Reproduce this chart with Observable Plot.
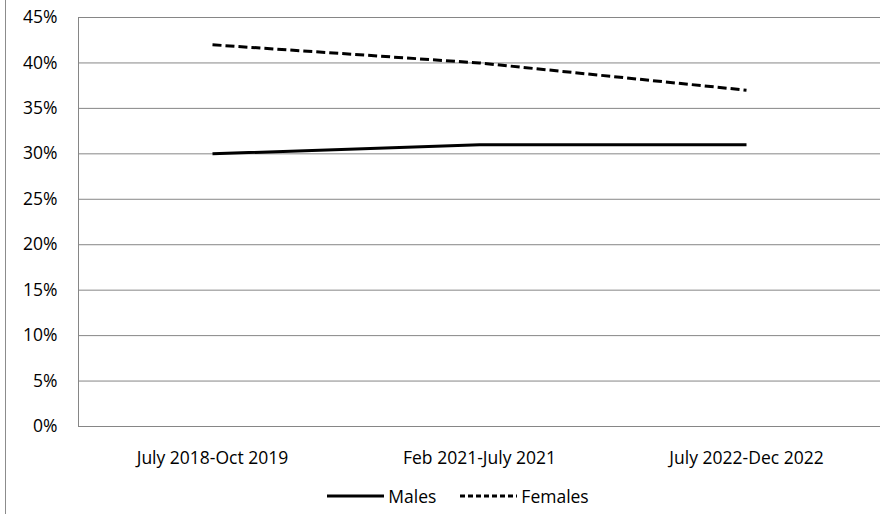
<!DOCTYPE html>
<html>
<head>
<meta charset="utf-8">
<script src="https://cdn.jsdelivr.net/npm/d3@7"></script>
<script src="https://cdn.jsdelivr.net/npm/@observablehq/plot@0.6"></script>
<style>
  html, body { margin: 0; padding: 0; background: #fff; }
  #wrap { position: relative; width: 884px; height: 514px; overflow: hidden; font-family: "Open Sans", sans-serif; }
  #frameLine { position: absolute; left: 5px; top: 0; width: 1px; height: 514px; background: #8c8c8c; }
  #legend { position: absolute; top: 484px; left: 0; width: 884px; display: flex; justify-content: center; gap: 24px; font-size: 17.5px; color: #000; padding-left: 32px; box-sizing: border-box; line-height: 24px; }
  .item { display: flex; align-items: center; gap: 4px; }
</style>
</head>
<body>
<div id="wrap">
  <div id="frameLine"></div>
  <div id="chart"></div>
  <div id="legend"></div>
</div>
<script>
const periods = ["July 2018-Oct 2019", "Feb 2021-July 2021", "July 2022-Dec 2022"];
const males = [30, 31, 31];
const females = [42, 40, 37];
const yTicks = [0, 5, 10, 15, 20, 25, 30, 35, 40, 45];
const seriesNames = ["Males", "Females"];

const data = [
  ...periods.map((p, i) => ({period: p, value: males[i], series: "Males"})),
  ...periods.map((p, i) => ({period: p, value: females[i], series: "Females"}))
];

const dashes = {Males: null, Females: "9,4"};

const chart = Plot.plot({
  width: 884,
  height: 480,
  marginTop: 17,
  marginBottom: 54,
  marginLeft: 78,
  marginRight: 4,
  style: {fontFamily: "'Open Sans', sans-serif", fontSize: "18px", color: "#000", background: "transparent"},
  x: {type: "point", domain: periods, padding: 0.5, label: null},
  y: {domain: [0, 45], label: null},
  marks: [
    Plot.ruleY(yTicks, {stroke: "#868686", strokeWidth: 1}),
    Plot.frame({anchor: "left", stroke: "#868686"}),
    Plot.axisY(yTicks, {tickSize: 0, tickPadding: 21, tickFormat: d => d + "%", fontSize: 17.5, label: null}),
    Plot.axisX({tickSize: 0, tickPadding: 25, fontSize: 17.5, label: null}),
    ...seriesNames.map(s => Plot.line(data.filter(d => d.series === s), {
      x: "period", y: "value", stroke: "#000", strokeWidth: 3,
      strokeDasharray: dashes[s], strokeLinecap: "butt"
    }))
  ]
});
document.getElementById("chart").appendChild(chart);

const legend = document.getElementById("legend");
seriesNames.forEach(s => {
  const item = document.createElement("div");
  item.className = "item";
  const dash = dashes[s] ? `stroke-dasharray="5,3"` : "";
  item.innerHTML = `<svg width="57" height="10"><line x1="0" y1="5" x2="57" y2="5" stroke="#000" stroke-width="3" ${dash}/></svg><span>${s}</span>`;
  legend.appendChild(item);
});
</script>
</body>
</html>
